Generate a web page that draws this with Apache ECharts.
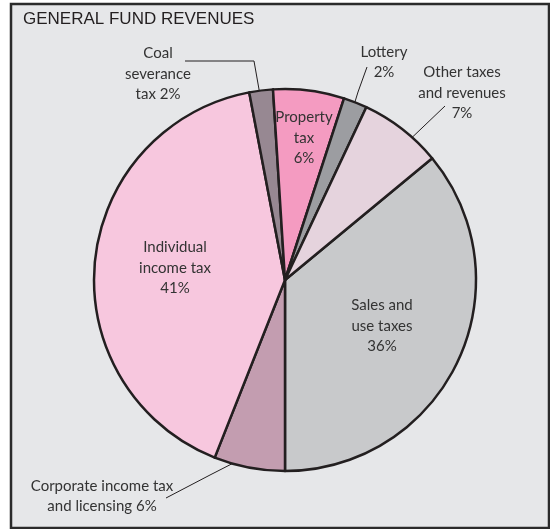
<!DOCTYPE html>
<html>
<head>
<meta charset="utf-8">
<script src="https://cdn.jsdelivr.net/npm/echarts@6/dist/echarts.min.js"></script>
<style>
  html, body { margin: 0; padding: 0; background: #fff; }
  #chart { width: 550px; height: 529px; }
</style>
</head>
<body>
<div id="chart"></div>
<script>
// slices, clockwise starting at the Sales/Other boundary
const names = ['Sales and use taxes', 'Corporate income tax and licensing', 'Individual income tax',
  'Coal severance tax', 'Property tax', 'Lottery', 'Other taxes and revenues']
const values = [36, 6, 41, 2, 6, 2, 7]
const labelText = ['Sales and\nuse taxes\n', 'Corporate income tax\nand licensing ', 'Individual\nincome tax\n',
  'Coal\nseverance\ntax ', 'Property\ntax\n', 'Lottery\n', 'Other taxes\nand revenues\n']
const colors = ['#c8c9cb', '#c39db0', '#f7c7de', '#978892', '#f49bc1', '#9c9da1', '#e5d3dd']

// where each label block sits, and leader lines for the outside ones
const labelPos = [[382, 326], [102, 496], [175, 268], [158, 74], [304, 138], [384, 62], [462, 93]]
const leaders = {
  1: [[255, 452], [210, 475], [166, 498]],
  3: [[260, 95], [254, 61], [185, 61]],
  5: [[350, 118], [358, 92], [367, 67]],
  6: [[401, 148], [423, 127], [445, 106]],
}

const chart = echarts.init(document.getElementById('chart'))

// Sales ends pointing straight down
const startAngle = -90 + (values[0] / 100) * 360

chart.setOption({
  backgroundColor: '#fff',
  animation: false,
  graphic: [
    {
      type: 'rect',
      shape: { x: 11, y: 4, width: 538, height: 524 },
      style: { fill: '#e6e7e9', stroke: '#2b2b2b', lineWidth: 2.5 },
      z: -10,
      silent: true,
    },
  ],
  title: {
    text: 'GENERAL FUND REVENUES',
    left: 23,
    top: 11,
    padding: 0,
    textStyle: {
      fontFamily: 'Liberation Sans',
      fontSize: 17,
      fontWeight: 'normal',
      color: '#231f20',
    },
  },
  series: [
    {
      type: 'pie',
      center: [285, 280],
      radius: 191,
      startAngle: startAngle,
      clockwise: true,
      avoidLabelOverlap: false,
      itemStyle: {
        borderColor: '#231f20',
        borderWidth: 2.5,
      },
      label: {
        show: true,
        fontFamily: 'Lato',
        fontSize: 15,
        lineHeight: 20.5,
        color: '#333',
        align: 'center',
        formatter: (p) => labelText[p.dataIndex] + p.value + '%',
      },
      labelLine: {
        show: true,
        lineStyle: { color: '#231f20', width: 1 },
      },
      labelLayout: (params) => {
        const i = params.dataIndex
        const pos = labelPos[i]
        const out = { x: pos[0], y: pos[1], align: 'center', verticalAlign: 'middle' }
        if (leaders[i]) out.labelLinePoints = leaders[i]
        return out
      },
      data: names.map((n, i) => ({
        name: n,
        value: values[i],
        itemStyle: { color: colors[i] },
        label: { position: leaders[i] ? 'outside' : 'inside' },
        labelLine: { show: !!leaders[i] },
      })),
    },
  ],
})
</script>
</body>
</html>
